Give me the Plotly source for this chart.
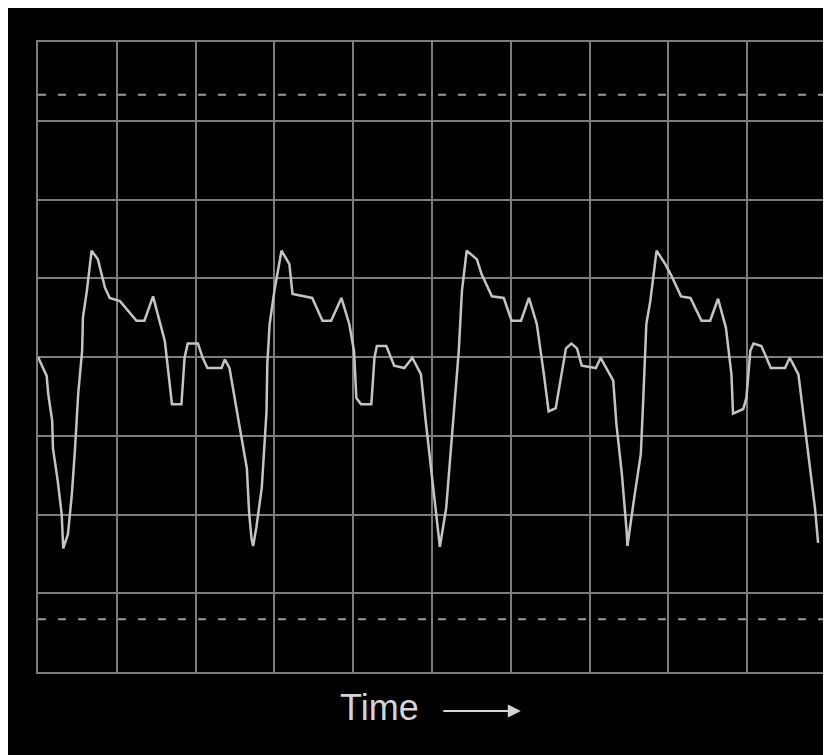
import plotly.graph_objects as go

# Oscilloscope trace: time (divisions) and amplitude (divisions)
time_div = [0.00, 0.11, 0.13, 0.18, 0.19, 0.25, 0.30, 0.32, 0.38, 0.43, 0.47, 0.51, 0.56, 0.57, 0.62, 0.68,
            0.76, 0.85, 0.91, 1.04, 1.25, 1.35, 1.46, 1.61, 1.70, 1.82, 1.86, 1.90, 2.03, 2.09, 2.15, 2.33,
            2.37, 2.43, 2.53, 2.65, 2.68, 2.71, 2.73, 2.77, 2.84, 2.90, 2.91, 2.94, 3.00, 3.09,
            3.19, 3.23, 3.48, 3.61, 3.72, 3.85, 3.95, 4.01, 4.04, 4.10, 4.23, 4.27, 4.30, 4.42, 4.52,
            4.65, 4.75, 4.86, 4.92, 5.00, 5.10,
            5.18, 5.24, 5.30, 5.34, 5.38, 5.44, 5.57, 5.63, 5.76, 5.91, 6.01, 6.13, 6.23, 6.33, 6.42,
            6.48, 6.57, 6.63, 6.70, 6.77, 6.84, 6.90, 7.08, 7.14, 7.24, 7.30, 7.34, 7.41, 7.47, 7.48,
            7.56, 7.65, 7.68, 7.72, 7.77, 7.85, 7.96, 8.03, 8.16, 8.28, 8.42, 8.53, 8.63, 8.73, 8.80,
            8.82, 8.95, 8.99, 9.04, 9.08, 9.18, 9.30, 9.48, 9.54, 9.65, 9.71, 9.77, 9.86, 9.90]
amplitude = [0.00, -0.24, -0.47, -0.81, -1.16, -1.57, -1.99, -2.43, -2.25, -1.74, -1.16, -0.47, 0.08, 0.50, 0.84, 1.35,
             1.24, 0.88, 0.75, 0.71, 0.46, 0.46, 0.77, 0.20, -0.60, -0.60, -0.01, 0.17, 0.17, -0.01, -0.14, -0.14,
             -0.03, -0.14, -0.72, -1.41, -1.99, -2.31, -2.40, -2.17, -1.66, -0.69, -0.09, 0.42, 0.84, 1.35,
             1.18, 0.80, 0.75, 0.46, 0.46, 0.75, 0.42, 0.08, -0.52, -0.60, -0.60, -0.01, 0.14, 0.14, -0.11,
             -0.14, -0.01, -0.22, -0.81, -1.49, -2.41,
             -1.92, -1.16, -0.43, 0.08, 0.84, 1.35, 1.24, 1.05, 0.77, 0.75, 0.46, 0.46, 0.75, 0.42, -0.22,
             -0.69, -0.65, -0.30, 0.11, 0.17, 0.11, -0.11, -0.14, -0.01, -0.18, -0.30, -0.85, -1.49, -2.21, -2.40,
             -1.83, -1.23, -0.56, 0.42, 0.71, 1.35, 1.18, 1.05, 0.77, 0.75, 0.46, 0.46, 0.74, 0.37, -0.22,
             -0.72, -0.66, -0.52, 0.08, 0.17, 0.14, -0.14, -0.14, -0.01, -0.22, -0.72, -1.16, -1.92, -2.36]

marker_levels = [3.33, -3.33]
x_label = "Time"

fig = go.Figure()
fig.add_trace(go.Scatter(x=time_div, y=amplitude, mode="lines",
                         line=dict(color="#c4c4c4", width=2.5), hoverinfo="skip"))

for lvl in marker_levels:
    fig.add_shape(type="line", xref="x", yref="y", x0=0, x1=10, y0=lvl, y1=lvl,
                  line=dict(color="#9a9a9a", width=2, dash="8px,12px"), layer="below")

fig.add_annotation(x=0.434, y=-0.056, xref="paper", yref="paper", text=x_label, showarrow=False,
                   font=dict(family="Liberation Sans, Arial", size=36, color="#d4d4d4"),
                   xanchor="center", yanchor="middle")
fig.add_annotation(x=0.6127, y=-0.0619, xref="paper", yref="paper", text="", showarrow=True,
                   ax=-79, ay=0, arrowhead=2, arrowsize=1.3, arrowwidth=2, arrowcolor="#d4d4d4")

axis_common = dict(showgrid=True, gridcolor="#7c7c7c", gridwidth=2, dtick=1,
                   showticklabels=False, ticks="", zeroline=False,
                   showline=True, linecolor="#7c7c7c", linewidth=2, mirror=True, fixedrange=True)

fig.update_layout(
    width=823, height=747,
    margin=dict(l=30, r=3, t=34, b=83),
    paper_bgcolor="#000000", plot_bgcolor="#000000",
    showlegend=False,
    xaxis=dict(range=[0, 10], tick0=0, **axis_common),
    yaxis=dict(range=[-4, 4], tick0=0, **axis_common),
)

fig.write_html("out.html")
